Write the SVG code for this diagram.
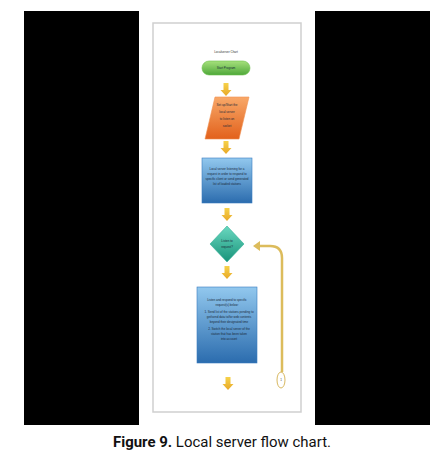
<svg xmlns="http://www.w3.org/2000/svg" width="444" height="472" viewBox="0 0 444 472">
<defs>
<linearGradient id="gGreen" x1="0" y1="0" x2="0" y2="1"><stop offset="0" stop-color="#a6e07c"/><stop offset="1" stop-color="#4fa83a"/></linearGradient>
<linearGradient id="gOrange" x1="0" y1="0" x2="0" y2="1"><stop offset="0" stop-color="#f8a868"/><stop offset="1" stop-color="#e2611c"/></linearGradient>
<linearGradient id="gBlue" x1="0" y1="0" x2="0" y2="1"><stop offset="0" stop-color="#92c8ee"/><stop offset="1" stop-color="#2b6cae"/></linearGradient>
<linearGradient id="gTeal" x1="0" y1="0" x2="0" y2="1"><stop offset="0" stop-color="#6ad8c0"/><stop offset="1" stop-color="#18937a"/></linearGradient>
<linearGradient id="gArrow" x1="0" y1="0" x2="0" y2="1"><stop offset="0" stop-color="#f6d24a"/><stop offset="1" stop-color="#e8a828"/></linearGradient>
<path id="blockArrow" d="M-2.5,0 H2.5 V7 H5.5 L0,13 L-5.5,7 H-2.5 Z"/>
</defs>
<style>
.black{fill:#000}
.page{fill:#fff;stroke:#cfcfcf;stroke-width:1.5}
.tiny{font-family:"Liberation Sans",Arial,sans-serif;font-size:3px;fill:#333;text-anchor:middle}
.tinyw{font-family:"Liberation Sans",Arial,sans-serif;font-size:3px;fill:#1a2a3a;text-anchor:middle}
.arr{fill:url(#gArrow)}
.loop{fill:none;stroke:#dcbc5c;stroke-width:2.5}
.cap{font-family:"Roboto","Liberation Sans",sans-serif;font-size:15px;fill:#111}
</style>
<rect width="444" height="472" fill="#fff"/>
<rect class="black" x="24" y="11" width="115" height="414"/>
<rect class="black" x="315" y="11" width="115" height="414"/>
<rect class="page" x="153" y="23" width="148" height="389"/>

<g id="title"><text class="tiny" x="226" y="53">Localserver Chart</text></g>

<g id="start">
<rect x="202" y="61" width="48" height="14" rx="7" fill="url(#gGreen)" stroke="#6cbf4c" stroke-width="0.6"/>
<text class="tinyw" x="226" y="69">Start Program</text>
</g>

<g id="setup">
<polygon points="215,97 249,97 239,139 205,139" fill="url(#gOrange)" stroke="#f09050" stroke-width="0.6"/>
<text class="tinyw" x="227" y="106">Set up/Start the</text>
<text class="tinyw" x="227" y="113">local server</text>
<text class="tinyw" x="227" y="120">to listen on</text>
<text class="tinyw" x="227" y="127">socket</text>
</g>

<g id="listen">
<rect x="202" y="158" width="50" height="45" fill="url(#gBlue)" stroke="#3a7cc0" stroke-width="0.6"/>
<text class="tinyw" x="227" y="170">Local server listening for a</text>
<text class="tinyw" x="227" y="175">request in order to respond to</text>
<text class="tinyw" x="227" y="180">specific client or send generated</text>
<text class="tinyw" x="227" y="185">list of loaded stations</text>
</g>

<g id="decision">
<polygon points="227,226 244,244 227,262 210,244" fill="url(#gTeal)" stroke="#30b096" stroke-width="0.6"/>
<text class="tinyw" x="227" y="242">Listen to</text>
<text class="tinyw" x="227" y="248">request?</text>
</g>

<g id="respond">
<rect x="197" y="287" width="60" height="76" fill="url(#gBlue)" stroke="#3a7cc0" stroke-width="0.6"/>
<text class="tinyw" x="227" y="301">Listen and respond to specific</text>
<text class="tinyw" x="227" y="306">request(s) below:</text>
<text class="tinyw" x="229" y="313">1. Send list of the stations pending to</text>
<text class="tinyw" x="229" y="318">get/send data to/for web contents</text>
<text class="tinyw" x="229" y="323">beyond their designated time</text>
<text class="tinyw" x="229" y="330">2. Switch the local server of the</text>
<text class="tinyw" x="229" y="335">station that has been taken</text>
<text class="tinyw" x="229" y="340">into account</text>
</g>

<g id="connectors">
<use href="#blockArrow" class="arr" x="226" y="83"/>
<use href="#blockArrow" class="arr" x="226" y="141"/>
<use href="#blockArrow" class="arr" x="227" y="208"/>
<use href="#blockArrow" class="arr" x="227" y="266"/>
<use href="#blockArrow" class="arr" x="228" y="377"/>
<path class="loop" d="M282,372 V258 Q282,246 270,246 H259"/>
<polygon points="253,246 260,241 260,251" fill="#dcbc5c"/>
</g>

<g id="connector-node">
<ellipse cx="281" cy="380" rx="4" ry="8" fill="#fff" stroke="#d8b860" stroke-width="1"/>
<text class="tiny" x="281" y="381">1</text>
</g>

<g id="caption">
<text class="cap" x="222" y="447" text-anchor="middle" textLength="218" lengthAdjust="spacingAndGlyphs"><tspan font-weight="bold">Figure 9.</tspan> Local server flow chart.</text>
</g>
</svg>
